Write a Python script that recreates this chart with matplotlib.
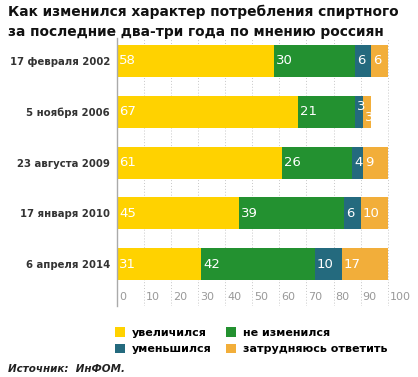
import matplotlib
matplotlib.use("Agg")
import matplotlib.pyplot as plt
import matplotlib.transforms as mtransforms
from matplotlib.patches import Patch
import numpy as np

dates = ["17 февраля 2002", "5 ноября 2006", "23 августа 2009", "17 января 2010", "6 апреля 2014"]
increased = [58, 67, 61, 45, 31]
unchanged = [30, 21, 26, 39, 42]
decreased = [6, 3, 4, 6, 10]
hard_to_say = [6, 3, 9, 10, 17]

series_names = ["увеличился", "не изменился", "уменьшился", "затрудняюсь ответить"]
colors = ["#FFD200", "#239130", "#246A7E", "#F2AE3A"]
xticks = list(range(0, 101, 10))

title = "Как изменился характер потребления спиртного\nза последние два-три года по мнению россиян"
source = "Источник:  ИнФОМ."

narrow = ["Liberation Sans Narrow", "DejaVu Sans"]

fig = plt.figure(figsize=(4.18, 3.77), dpi=100)
ax = fig.add_axes([117 / 418, 1 - 306 / 377, 272 / 418, 268 / 377])

y = np.arange(len(dates))
series = [increased, unchanged, decreased, hard_to_say]
left = np.zeros(len(dates))
for vals, col in zip(series, colors):
    vals = np.array(vals, dtype=float)
    ax.barh(y, vals, left=left, height=0.63, color=col, zorder=2)
    for i, (l, v) in enumerate(zip(left, vals)):
        dy = 0
        # small neighbouring segments in 2006 overlap, nudge them apart
        if v <= 3:
            dy = -0.1 if col == colors[2] else 0.12
        ax.text(l + 0.8, i + dy, f"{int(v)}", color="white", va="center", ha="left",
                fontsize=9.5, family=narrow, zorder=3)
    left += vals

ax.set_xlim(0, 100.5)
ax.set_ylim(4 + 0.82, -0.45)
ax.set_xticks(xticks)
for xv in xticks:
    ax.axvline(xv, color="#c8c8c8", lw=0.7, ls=(0, (1, 2)), zorder=1)
    ax.text(xv + 0.7, 0.035, str(xv), transform=ax.get_xaxis_transform(),
            ha="left", va="center", fontsize=8, color="#999999", family=narrow)
ax.set_xticklabels([])
ax.tick_params(axis="x", length=0)
ax.set_yticks(y)
ax.set_yticklabels(dates, fontsize=7.3, fontweight="bold", color="#333333",
                   va="center_baseline")
# labels sit a little below bar centres in the original
shift = mtransforms.ScaledTranslation(0, -3 / 100, fig.dpi_scale_trans)
for lab in ax.get_yticklabels():
    lab.set_transform(lab.get_transform() + shift)
ax.tick_params(axis="y", length=0, pad=5)
for s in ["top", "right", "bottom"]:
    ax.spines[s].set_visible(False)
ax.spines["left"].set_color("#aaaaaa")
ax.spines["left"].set_linewidth(1.0)

fig.text(8 / 418, 1 - 22 / 377, title, fontsize=9.9, fontweight="bold",
         color="#111111", va="center", ha="left", linespacing=1.55)

order = [0, 2, 1, 3]
handles = [Patch(facecolor=colors[k], edgecolor="none") for k in order]
labels = [series_names[k] for k in order]
fig.legend(handles, labels, ncol=2, loc="upper left",
           bbox_to_anchor=(111 / 418, 1 - 323 / 377), frameon=False,
           prop={"weight": "bold", "size": 8}, handlelength=0.9, handleheight=0.9,
           handletextpad=0.6, columnspacing=1.3, labelspacing=0.55, borderaxespad=0)

fig.text(8 / 418, 1 - 369 / 377, source, fontsize=7.5, fontstyle="italic",
         fontweight="bold", color="#222222", va="center", ha="left")

fig.savefig("out.png", dpi=100)
